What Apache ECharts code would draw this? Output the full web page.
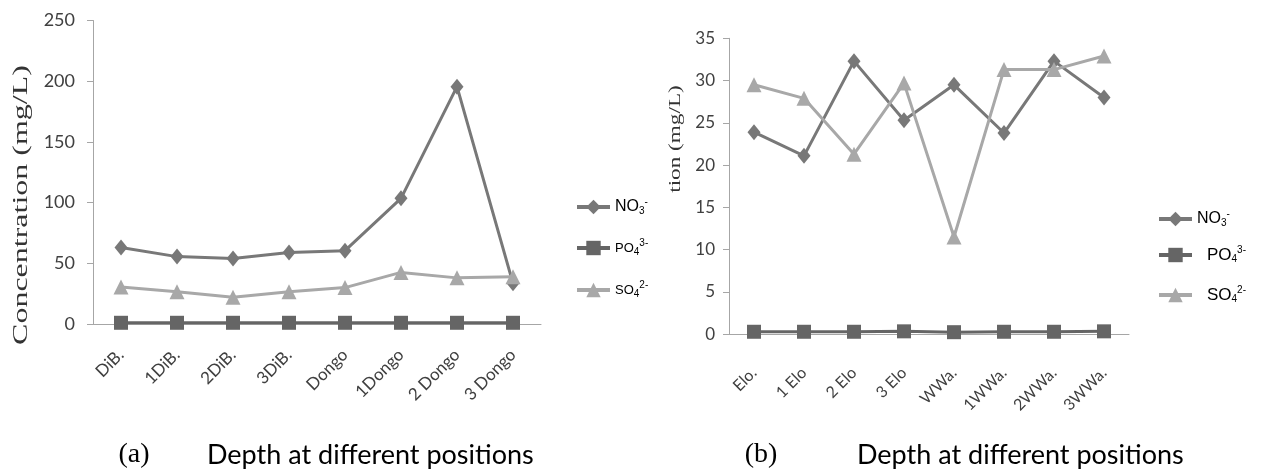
<!DOCTYPE html>
<html>
<head>
<meta charset="utf-8">
<script src="https://cdn.jsdelivr.net/npm/echarts@6/dist/echarts.min.js"></script>
<style>
  html, body { margin: 0; padding: 0; background: #fff; }
  #chart { width: 1265px; height: 473px; }
</style>
</head>
<body>
<div id="chart"></div>
<script>
// (a) Dibamba / Dongo
var leftCategories = ['DiB.', '1DiB.', '2DiB.', '3DiB.', 'Dongo', '1Dongo', '2 Dongo', '3 Dongo']
var leftNO3 = [63, 55.5, 54, 58.8, 60.4, 103.5, 195.5, 33.5]
var leftPO4 = [1, 1, 1, 1, 1, 1, 1, 1]
var leftSO4 = [30.5, 26.5, 22, 26.5, 30, 42.5, 38, 39]
var leftTicks = [0, 50, 100, 150, 200, 250]

// (b) Elo / WWa
var rightCategories = ['Elo.', '1 Elo', '2 Elo', '3 Elo', 'WWa.', '1WWa.', '2WWa.', '3WWa.']
var rightNO3 = [23.9, 21.1, 32.3, 25.3, 29.5, 23.8, 32.3, 28.0]
var rightPO4 = [0.3, 0.3, 0.3, 0.35, 0.25, 0.3, 0.3, 0.35]
var rightSO4 = [29.5, 27.9, 21.3, 29.7, 11.5, 31.3, 31.3, 32.9]
var rightTicks = [0, 5, 10, 15, 20, 25, 30, 35]

var ionNames = ['NO3-', 'PO43-', 'SO42-']
var colors = { 'NO3-': '#787878', 'PO43-': '#656565', 'SO42-': '#a8a8a8' }

var chart = echarts.init(document.getElementById('chart'))

function yAxis (gridIndex, ticks, margin, size) {
  return {
    type: 'value',
    gridIndex: gridIndex,
    min: ticks[0],
    max: ticks[ticks.length - 1],
    interval: ticks[1] - ticks[0],
    axisLine: { show: true, lineStyle: { color: '#a6a6a6', width: 1 } },
    axisTick: { show: true, length: 6, lineStyle: { color: '#a6a6a6' } },
    splitLine: { show: false },
    axisLabel: { margin: margin, color: '#404040', fontFamily: 'Lato', fontSize: size }
  }
}

function xAxis (gridIndex, cats, margin, size) {
  return {
    type: 'category',
    gridIndex: gridIndex,
    data: cats,
    boundaryGap: true,
    axisLine: { show: true, lineStyle: { color: '#a6a6a6', width: 1 } },
    axisTick: { show: false },
    axisLabel: { rotate: 45, margin: margin, color: '#404040', fontFamily: 'Lato', fontSize: size, interval: 0 }
  }
}

function lineSeries (name, data, idx) {
  var sym = { 'NO3-': 'diamond', 'PO43-': 'rect', 'SO42-': 'triangle' }[name]
  var size = { 'NO3-': [13, 16], 'PO43-': [14, 14], 'SO42-': [15, 15] }[name]
  return {
    name: name,
    type: 'line',
    xAxisIndex: idx,
    yAxisIndex: idx,
    data: data,
    symbol: sym,
    symbolSize: size,
    showAllSymbol: true,
    lineStyle: { color: colors[name], width: 3 },
    itemStyle: { color: colors[name] },
    emphasis: { disabled: true },
    animation: false
  }
}

// legend text with sub / superscripts
var legendRich = {
  big: { fontFamily: 'Liberation Sans', fontSize: 16, color: '#000' },
  mid: { fontFamily: 'Liberation Sans', fontSize: 17, color: '#000', padding: [0, 0, 0, 10] },
  small: { fontFamily: 'Liberation Sans', fontSize: 13, color: '#000' },
  sub: { fontFamily: 'Liberation Sans', fontSize: 10, color: '#000', padding: [9, 0, 0, 0] },
  sup: { fontFamily: 'Liberation Sans', fontSize: 10, color: '#000', padding: [0, 0, 10, 0] }
}
var leftLabels = {
  'NO3-': '{big|NO}{sub|3}{sup|-}',
  'PO43-': '{small|PO}{sub|4}{sup|3-}',
  'SO42-': '{small|SO}{sub|4}{sup|2-}'
}
var rightLabels = {
  'NO3-': '{big|NO}{sub|3}{sup|-}',
  'PO43-': '{mid|PO}{sub|4}{sup|3-}',
  'SO42-': '{mid|SO}{sub|4}{sup|2-}'
}

var legends = []
var leftTops = [205, 246, 288]
var rightTops = [217, 253, 293]
ionNames.forEach(function (n, i) {
  legends.push({
    data: [n], left: 570, top: leftTops[i] - 13, itemWidth: 33, itemHeight: 18,
    lineStyle: { width: 4 },
    formatter: function (name) { return leftLabels[name] },
    textStyle: { rich: legendRich }, selectedMode: false
  })
  legends.push({
    data: [n], left: 1152, top: rightTops[i] - 13, itemWidth: 33, itemHeight: 18,
    lineStyle: { width: 4 },
    formatter: function (name) { return rightLabels[name] },
    textStyle: { rich: legendRich }, selectedMode: false
  })
})

chart.setOption({
  animation: false,
  grid: [
    { left: 93, top: 20.5, width: 448, height: 303.5 },
    { left: 729, top: 38.3, width: 400, height: 296 }
  ],
  xAxis: [xAxis(0, leftCategories, 28, 17), xAxis(1, rightCategories, 36, 16)],
  yAxis: [yAxis(0, leftTicks, 18, 18), yAxis(1, rightTicks, 14, 17)],
  legend: legends,
  series: [
    lineSeries('NO3-', leftNO3, 0),
    lineSeries('PO43-', leftPO4, 0),
    lineSeries('SO42-', leftSO4, 0),
    lineSeries('NO3-', rightNO3, 1),
    lineSeries('PO43-', rightPO4, 1),
    lineSeries('SO42-', rightSO4, 1)
  ],
  graphic: [
    {
      type: 'text', x: 22, y: 205, rotation: Math.PI / 2, scaleX: 1.6,
      style: { text: 'Concentration (mg/L)', font: '20px "Liberation Serif"', fill: '#333', align: 'center', verticalAlign: 'middle', textAlign: 'center', textVerticalAlign: 'middle' }
    },
    {
      type: 'text', x: 676, y: 139, rotation: Math.PI / 2, scaleX: 1.45,
      style: { text: 'tion (mg/L)', font: '16px "Liberation Serif"', fill: '#333', align: 'center', verticalAlign: 'middle', textAlign: 'center', textVerticalAlign: 'middle' }
    },
    {
      type: 'text', x: 134, y: 455,
      style: { text: '(a)', font: '28px "Liberation Serif"', fill: '#000', align: 'center', verticalAlign: 'middle', textAlign: 'center', textVerticalAlign: 'middle' }
    },
    {
      type: 'text', x: 207, y: 455,
      style: { text: 'Depth at different positions', font: '27px Lato', fill: '#000', align: 'left', verticalAlign: 'middle', textAlign: 'left', textVerticalAlign: 'middle' }
    },
    {
      type: 'text', x: 761, y: 455,
      style: { text: '(b)', font: '28px "Liberation Serif"', fill: '#000', align: 'center', verticalAlign: 'middle', textAlign: 'center', textVerticalAlign: 'middle' }
    },
    {
      type: 'text', x: 857, y: 455,
      style: { text: 'Depth at different positions', font: '27px Lato', fill: '#000', align: 'left', verticalAlign: 'middle', textAlign: 'left', textVerticalAlign: 'middle' }
    }
  ]
})
</script>
</body>
</html>
